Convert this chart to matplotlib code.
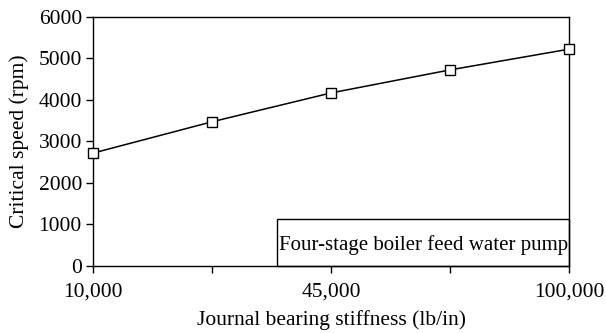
import matplotlib.pyplot as plt
from matplotlib.patches import Rectangle

plt.rcParams['font.family'] = ['Liberation Serif', 'DejaVu Serif']

# bearing stiffness cases and resulting critical speeds
stiffness_labels = ["10,000", "", "45,000", "", "100,000"]
critical_speed = [2720, 3475, 4170, 4725, 5225]
box_text = "Four-stage boiler feed water pump"

fs = 15.5

fig = plt.figure(figsize=(6.06, 3.33), dpi=100)
ax = fig.add_axes([0.1535, 0.2012, 0.7855, 0.7478])

x = list(range(len(critical_speed)))
ax.plot(x, critical_speed, color="black", lw=1.1, marker="s", ms=6.5,
        mfc="white", mec="black", mew=1.0, clip_on=False, zorder=3)

ax.set_xlim(0, len(x) - 1)
ax.set_ylim(0, 6000)
ax.set_yticks(range(0, 6001, 1000))
ax.set_xticks(x)
ax.set_xticklabels(stiffness_labels)

for s in ax.spines.values():
    s.set_linewidth(1.0)
ax.tick_params(axis="both", direction="out", length=5, width=1.0,
               labelsize=fs, colors="black")
ax.tick_params(axis="x", pad=7)
ax.tick_params(axis="y", pad=3)

ax.set_xlabel("Journal bearing stiffness (lb/in)", fontsize=fs, labelpad=6)
ax.set_ylabel("Critical speed (rpm)", fontsize=fs, labelpad=7)

# label box in the lower right corner
ax.add_patch(Rectangle((0.387, 0), 0.613, 0.189, transform=ax.transAxes,
                       fill=False, ec="black", lw=1.0, clip_on=False))
ax.text(0.6935, 0.085, box_text, transform=ax.transAxes,
        ha="center", va="center", fontsize=15)

fig.savefig("out.png", dpi=100)
